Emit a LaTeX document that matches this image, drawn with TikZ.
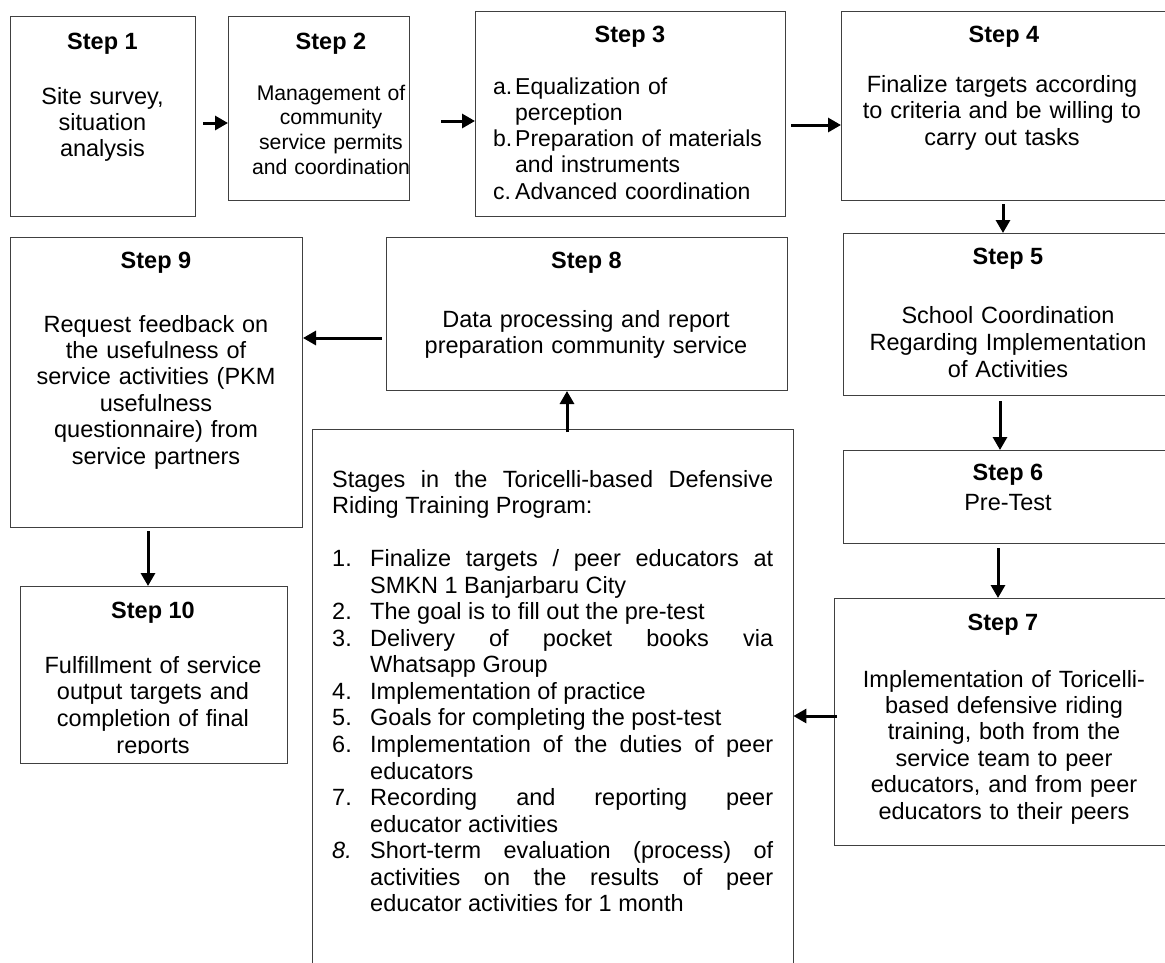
\documentclass[tikz,border=0pt]{standalone}
\usepackage{fontspec}
\setmainfont{Liberation Sans}
\usetikzlibrary{arrows.meta}
\tolerance=10000 \hbadness=10000 \hyphenpenalty=10000
\frenchspacing
\newcommand\stitem[2]{\par\hangindent=38pt\hangafter=1\noindent\makebox[38pt][l]{#1}#2\par}
\newcommand\lbl[1]{\makebox[22pt][l]{#1}}
\tikzset{
  box/.style={draw=black!75, line width=1pt, inner sep=0pt, anchor=north west},
  boxline/.style={draw=black!75, line width=1pt},
  hd/.style={font=\fontsize{23.5}{26.5}\selectfont\bfseries, anchor=base, inner sep=0pt},
  bd/.style={font=\fontsize{23.5}{#1}\selectfont, anchor=base, inner sep=0pt, align=center, text width=400pt},
  bd/.default=26.5,
  arr/.style={line width=3pt, -{Triangle[length=13pt,width=14pt]}}
}
\begin{document}
\begin{tikzpicture}[x=1pt,y=-1pt]
\useasboundingbox (0,0) rectangle (1165,962);
\clip (0,0) rectangle (1165,962);
% boxes
\node[box,minimum width=185pt,minimum height=200pt] (b1) at (10,16) {};
\node[box,minimum width=181pt,minimum height=184pt] (b2) at (228,16) {};
\node[box,minimum width=310pt,minimum height=205pt] (b3) at (475,11) {};
\node[box,minimum width=330pt,minimum height=189pt] (b4) at (841,11) {};
\node[box,minimum width=330pt,minimum height=162pt] (b5) at (843,233) {};
\node[box,minimum width=330pt,minimum height=93pt] (b6) at (843,450) {};
\node[box,minimum width=340pt,minimum height=247pt] (b7) at (834,598) {};
\node[box,minimum width=401pt,minimum height=153pt] (b8) at (386,237) {};
\node[box,minimum width=292pt,minimum height=290pt] (b9) at (10,237) {};
\node[box,minimum width=267pt,minimum height=177pt] (b10) at (20,586) {};
\node[inner sep=0pt,minimum width=481pt,minimum height=560pt,anchor=north west] (st) at (312,429) {};
\draw[boxline] (st.south west) -- (st.north west) -- (st.north east) -- (st.south east);
% headers
\node[hd] (h1) at (102.5,49) {Step 1};
\node[hd] (h2) at (331,49) {Step 2};
\node[hd] (h3) at (630,42) {Step 3};
\node[hd] (h4) at (1004,42) {Step 4};
\node[hd] (h5) at (1008,264) {Step 5};
\node[hd] (h6) at (1008,480) {Step 6};
\node[hd] (h7) at (1003,630) {Step 7};
\node[hd] (h8) at (586.5,268) {Step 8};
\node[hd] (h9) at (156,268) {Step 9};
\node[hd] (h10) at (153,618) {Step 10};
% bodies
\node[bd=26] (t1) at (102.5,104) {Site survey,\\situation\\analysis};
\node[bd, font=\fontsize{21.2}{24.7}\selectfont] (t2) at (331,100) {Management of\\community\\service permits\\and coordination};
\node[bd=26.3, font=\fontsize{23}{26.3}\selectfont, align=left, anchor=base west, text width=300pt] (t3) at (493,94)
  {\lbl{a.}Equalization of\\\hspace*{22pt}perception\\\lbl{b.}Preparation of materials\\\hspace*{22pt}and instruments\\\lbl{c.}Advanced coordination};
\node[bd=26.5] (t4) at (1002,92) {Finalize targets according\\to criteria and be willing to\\carry out tasks};
\node[bd=27] (t5) at (1008,323) {School Coordination\\Regarding Implementation\\of Activities};
\node[bd] (t6) at (1008,510) {Pre-Test};
\node[bd=26.4] (t7) at (1004,687) {Implementation of Toricelli-\\based defensive riding\\training, both from the\\service team to peer\\educators, and from peer\\educators to their peers};
\node[bd=26] (t8) at (586,327) {Data processing and report\\preparation community service};
\node[bd=26.4] (t9) at (156,332) {Request feedback on\\the usefulness of\\service activities (PKM\\usefulness\\questionnaire) from\\service partners};
\begin{scope}
\clip (b10.north west) rectangle ([yshift=11pt]b10.south east);
\node[bd=26.7] (t10) at (153,673) {Fulfillment of service\\output targets and\\completion of final\\reports};
\end{scope}
\node[font=\fontsize{23.5}{26.55}\selectfont, anchor=base west, inner sep=0pt, text width=441pt, align=justify] (tst) at (332,487) {%
Stages in the Toricelli-based Defensive\linebreak Riding Training Program:\par
\vspace*{26.55pt}%
\stitem{1.}{Finalize targets / peer educators at\linebreak SMKN 1 Banjarbaru City}%
\stitem{2.}{The goal is to fill out the pre-test}%
\stitem{3.}{Delivery of pocket books via\linebreak Whatsapp Group}%
\stitem{4.}{Implementation of practice}%
\stitem{5.}{Goals for completing the post-test}%
\stitem{6.}{Implementation of the duties of peer\linebreak educators}%
\stitem{7.}{Recording and reporting peer\linebreak educator activities}%
\stitem{\textit{8.}}{Short-term evaluation (process) of\linebreak activities on the results of peer\linebreak educator activities for 1 month}};
% connectors
\coordinate (s12) at ([shift={(7,107)}]b1.north east);
\coordinate (s23) at ([shift={(31,105)}]b2.north east);
\coordinate (s34) at ([shift={(5,114)}]b3.north east);
\coordinate (s45) at ([shift={(162,3)}]b4.south west);
\coordinate (s56) at ([shift={(157,5)}]b5.south west);
\coordinate (s67) at ([shift={(155,4)}]b6.south west);
\coordinate (s7s) at ([shift={(3,118)}]b7.north west);
\coordinate (ss8) at ([shift={(255,3)}]st.north west);
\coordinate (s89) at ([shift={(-4,101)}]b8.north west);
\coordinate (s910) at ([shift={(138,3)}]b9.south west);
\draw[arr] (s12) -- (s12 -| b2.west);
\draw[arr] (s23) -- (s23 -| b3.west);
\draw[arr] (s34) -- (s34 -| b4.west);
\draw[arr] (s45) -- (s45 |- b5.north);
\draw[arr] (s56) -- (s56 |- b6.north);
\draw[arr] (s67) -- (s67 |- b7.north);
\draw[arr] (s7s) -- (s7s -| st.east);
\draw[arr] (ss8) -- (ss8 |- b8.south);
\draw[arr] (s89) -- (s89 -| b9.east);
\draw[arr] (s910) -- (s910 |- b10.north);
\end{tikzpicture}
\end{document}
